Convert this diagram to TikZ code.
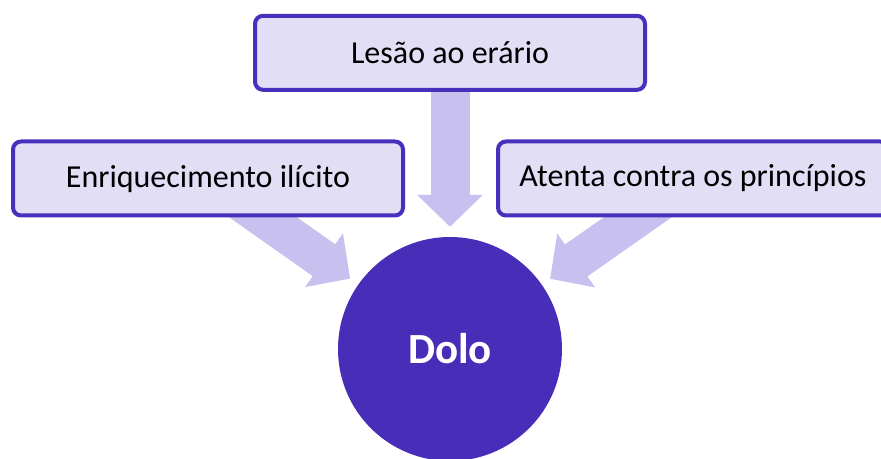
\documentclass[tikz,border=0pt]{standalone}
\usepackage{fontspec}
\setmainfont{Carlito}
\usetikzlibrary{positioning,arrows.meta,backgrounds}

\definecolor{caixafill}{RGB}{225,222,245}
\definecolor{caixaline}{RGB}{72,48,188}
\definecolor{dolofill}{RGB}{72,45,184}
\definecolor{setafill}{RGB}{200,192,238}

\tikzset{
    caixa/.style={draw=caixaline,
        line width=4pt,
        rounded corners=8pt,
        fill=caixafill,
        minimum width=390pt,
        minimum height=74pt,
        font=\fontsize{32}{38}\selectfont
    },
    seta/.style={draw=setafill,
        line width=39pt,
        -{Triangle[length=32pt 0 0,width=64pt 0 0]},
        shorten >=10pt
    }
}

\begin{document}
\begin{tikzpicture}[x=1pt,y=1pt]

    \useasboundingbox (0,0) rectangle (881,458);

    % Dolo
    \node[circle,
        fill=dolofill,
        minimum size=224pt,
        inner sep=0pt,
        text=white,
        font=\fontsize{43}{50}\selectfont\bfseries
    ] (dolo) at (450,109) {Dolo};

    % lesao
    \node[caixa, above=145pt of dolo] (lesao) {Lesão ao erário};

    % enriquecimento
    \node[caixa] (enriquecimento) at (208,279.5) {Enriquecimento ilícito};

    % principios
    \node[caixa] (principios) at (693,279.5) {Atenta contra os princípios};

    % Arrows
    \begin{scope}[on background layer]
        \draw[seta] (lesao.center) -- (dolo);
        \draw[seta] (enriquecimento.center) -- (dolo);
        \draw[seta] (principios.center) -- (dolo);
    \end{scope}

\end{tikzpicture}
\end{document}
